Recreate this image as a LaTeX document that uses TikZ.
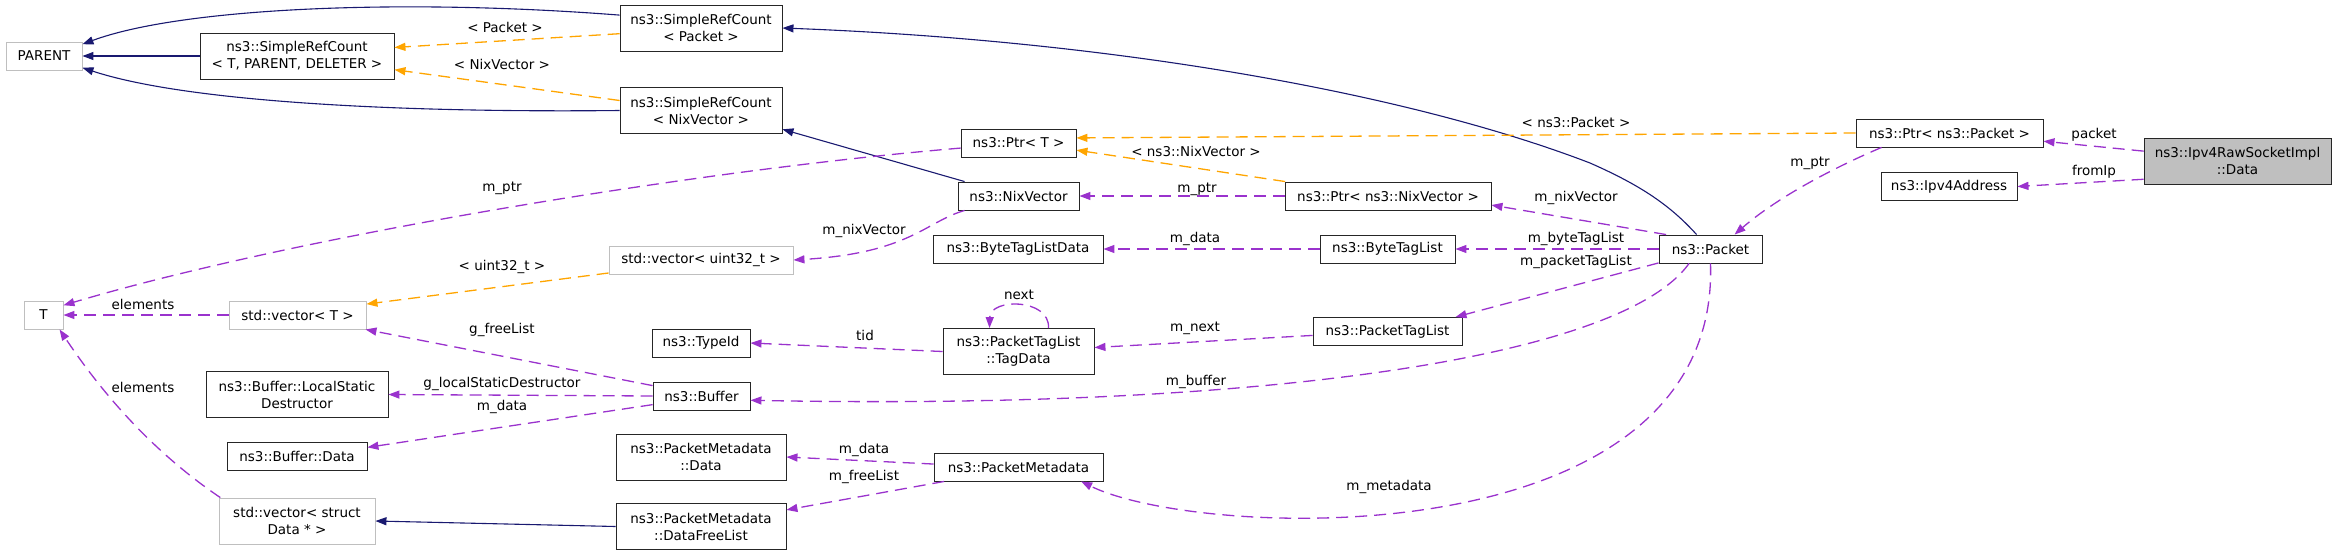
\documentclass[tikz,border=0pt]{standalone}
\usepackage{fontspec}
\setmainfont{DejaVu Sans}
\usetikzlibrary{arrows.meta}
\definecolor{navy}{HTML}{191970}
\definecolor{orng}{HTML}{FFA500}
\definecolor{purp}{HTML}{9A32CD}
\definecolor{lgray}{HTML}{BFBFBF}
\newcommand{\dxfont}{\fontsize{13.5}{17}\selectfont}

\begin{document}
\begin{tikzpicture}[x=1pt, y=-1pt,
    cls/.style={draw=black!85, line width=0.9pt, inner sep=0pt, align=center,
      minimum height=28, font=\dxfont},
    ext/.style={cls, draw=lgray},
    lbl/.style={inner sep=0pt, font=\dxfont},
    inh/.style={draw=navy, line width=1.1pt, -{Triangle[length=11pt,width=8pt]}},
    tpl/.style={draw=orng, line width=1.3pt, dash pattern=on 12pt off 7pt,
      -{Triangle[length=11pt,width=8pt]}},
    member/.style={draw=purp, line width=1.3pt, dash pattern=on 12pt off 7pt,
      -{Triangle[length=11pt,width=8pt]}}]
  \useasboundingbox (0,0) rectangle (2336,555);

  \foreach \n/\s/\x/\y/\w/\t in {
      parent/ext/44/56/76/PARENT,
      ptrt/cls/1018.5/143/115/ns3::Ptr< T >,
      nixvec/cls/1018.5/196/121/ns3::NixVector,
      ptrnix/cls/1388/196/206/ns3::Ptr< ns3::NixVector >,
      vecu32/ext/701/260/184/std::vector< uint32\_t >,
      btldata/cls/1018/249/170/ns3::ByteTagListData,
      btl/cls/1387.5/249/135/ns3::ByteTagList,
      typeid/cls/701/343/98/ns3::TypeId,
      ptl/cls/1387.5/331.5/149/ns3::PacketTagList,
      ptrpkt/cls/1949.5/133/187/ns3::Ptr< ns3::Packet >,
      ipv4/cls/1949/186.5/136/ns3::Ipv4Address,
      packet/cls/1710.5/249/103/ns3::Packet,
      tnode/ext/43.5/315/39/T,
      vect/ext/297.5/315/137/std::vector< T >,
      buffer/cls/701.5/396/97/ns3::Buffer,
      bufdata/cls/297/456/140/ns3::Buffer::Data,
      pmeta/cls/1018.5/467/169/ns3::PacketMetadata}
    \node[\s, minimum width=\w] (\n) at (\x,\y) {\t};

  \node[cls, minimum width=194, minimum height=46] (srctpd) at (297,56)
    {ns3::SimpleRefCount\\< T, PARENT, DELETER >};
  \node[cls, minimum width=162, minimum height=46] (srcpkt) at (701,28)
    {ns3::SimpleRefCount\\< Packet >};
  \node[cls, minimum width=162, minimum height=46] (srcnix) at (701,110.5)
    {ns3::SimpleRefCount\\< NixVector >};
  \node[cls, minimum width=151, minimum height=46] (tagdata) at (1018.5,351.5)
    {ns3::PacketTagList\\::TagData};
  \node[cls, fill=lgray, minimum width=187, minimum height=46] (rawdata) at (2237.5,161)
    {ns3::Ipv4RawSocketImpl\\::Data};
  \node[cls, minimum width=182, minimum height=46] (lsd) at (297,394.5)
    {ns3::Buffer::LocalStatic\\Destructor};
  \node[cls, minimum width=170, minimum height=46] (pmdata) at (701,457)
    {ns3::PacketMetadata\\::Data};
  \node[ext, minimum width=156, minimum height=46] (vecdata) at (297,521)
    {std::vector< struct\\Data * >};
  \node[cls, minimum width=170, minimum height=46] (pmfree) at (701,526.5)
    {ns3::PacketMetadata\\::DataFreeList};

  \draw[inh] (srctpd.west) -- (parent.east);
  \draw[inh] (srcpkt.171) .. controls (400,-2) and (180,8) .. (parent.17);
  \draw[inh] (srcnix.west) .. controls (380,113) and (180,100) .. (parent.-17);
  \draw[inh] (packet.134) .. controls (1670,205) and (1640,185) .. (1590,163)
    .. controls (1400,90) and (1100,40) .. (srcpkt.east);
  \draw[inh] (nixvec.165) -- (srcnix.-13.5);
  \draw[inh] (pmfree.west) -- (vecdata.east);

  \draw[tpl] (srcpkt.184) -- (srctpd.5);
  \draw[tpl] (srcnix.173) -- (srctpd.-8);
  \draw[tpl] (ptrpkt.west) -- (ptrt.5);
  \draw[tpl] (ptrnix.172) -- (ptrt.-7);
  \draw[tpl] (vecu32.188) -- (vect.9);

  \draw[member] (ptrnix.west) -- (nixvec.east);
  \draw[member] (ptrt.185) .. controls (700,170) and (300,235) .. (tnode.26);
  \draw[member] (nixvec.195) .. controls (925,222) and (910,253) .. (vecu32.east);
  \draw[member] (vect.west) -- (tnode.east);
  \draw[member] (vecdata.163) .. controls (150,450) and (100,390) .. (tnode.-42);
  \draw[member] (buffer.168) -- (vect.-12);
  \draw[member] (buffer.west) -- (lsd.east);
  \draw[member] (buffer.190) -- (bufdata.7);
  \draw[member] (pmeta.178) -- (pmdata.east);
  \draw[member] (pmeta.191) -- (pmfree.11);
  \draw[member] (btl.west) -- (btldata.east);
  \draw[member] (tagdata.west) -- (typeid.east);
  \draw[member] (tagdata.38) .. controls (1050,298) and (990,298) .. (tagdata.141);
  \draw[member] (ptl.183) -- (tagdata.3);
  \draw[member] (packet.162) -- (ptrnix.-5);
  \draw[member] (packet.west) -- (btl.east);
  \draw[member] (packet.195) -- (ptl.12);
  \draw[member] (packet.214) .. controls (1620,360) and (1250,410) .. (buffer.-5);
  \draw[member] (packet.south) .. controls (1720,560) and (1200,540) .. (pmeta.-13);
  \draw[member] (ptrpkt.192) .. controls (1840,165) and (1780,195) .. (packet.31);
  \draw[member] (rawdata.174) -- (ptrpkt.-5);
  \draw[member] (rawdata.191) -- (ipv4.east);

  \foreach \n/\x/\y/\t in {
      lpkt/505/27/< Packet >,
      lnix/502/64/< NixVector >,
      lnspkt/1576/122/< ns3::Packet >,
      lnsnix/1196/151/< ns3::NixVector >,
      lu32/502/267/< uint32\_t >,
      lmptrt/502/188/m\_ptr,
      lmptrn/1197/189/m\_ptr,
      lnixv/864/231/m\_nixVector,
      lelem/143/304/elements,
      lelemd/143/387/elements,
      lfree/502/330/g\_freeList,
      llsd/502/384/g\_localStaticDestructor,
      lbdata/502/407/m\_data,
      lpmdata/864/450/m\_data,
      lpmfree/864/477/m\_freeList,
      lbtl/1195/239/m\_data,
      ltid/865/335/tid,
      lnext/1019/295/next,
      lmnext/1195/328/m\_next,
      lpnix/1576/198/m\_nixVector,
      lpbtl/1576/239/m\_byteTagList,
      lpptl/1576/262/m\_packetTagList,
      lbuf/1196/382/m\_buffer,
      lmeta/1389/487/m\_metadata,
      lptrp/1810/163/m\_ptr,
      lpacket/2094/135/packet,
      lfrom/2094/172/fromIp}
    \node[lbl] (\n) at (\x,\y) {\t};
\end{tikzpicture}
\end{document}
